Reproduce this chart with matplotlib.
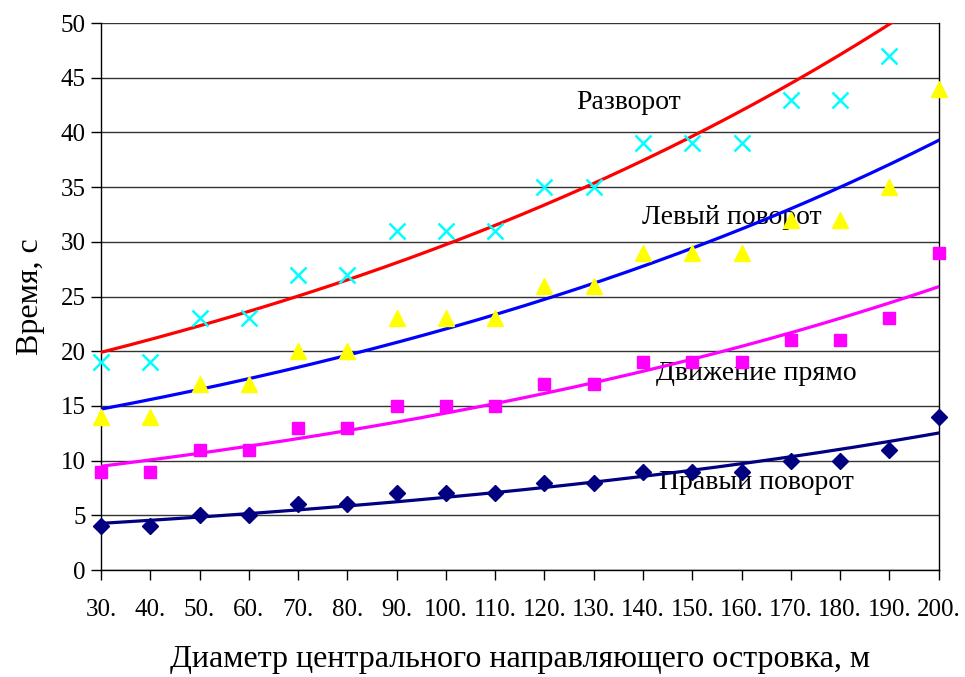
import matplotlib.pyplot as plt
import numpy as np

plt.rcParams['font.family'] = ['Liberation Serif', 'DejaVu Serif']

# island diameter, m
diameters = [30, 40, 50, 60, 70, 80, 90, 100, 110, 120, 130, 140, 150, 160, 170, 180, 190, 200]
tick_labels = [f"{d}." for d in diameters]

# measured times, s
u_turn = [19, 19, 23, 23, 27, 27, 31, 31, 31, 35, 35, 39, 39, 39, 43, 43, 47, 60]
left_turn = [14, 14, 17, 17, 20, 20, 23, 23, 23, 26, 26, 29, 29, 29, 32, 32, 35, 44]
straight = [9, 9, 11, 11, 13, 13, 15, 15, 15, 17, 17, 19, 19, 19, 21, 21, 23, 29]
right_turn = [4, 4, 5, 5, 6, 6, 7, 7, 7, 8, 8, 9, 9, 9, 10, 10, 11, 14]

series = [
    # values, marker, marker colour, line colour, marker size, label, label position
    (u_turn, 'x', '#00FFFF', '#FF0000', 11, 'Разворот', (137, 42.7)),
    (left_turn, '^', '#FFFF00', '#0000FF', 11, 'Левый поворот', (158, 32.2)),
    (straight, 's', '#FF00FF', '#FF00FF', 8, 'Движение прямо', (163, 18.0)),
    (right_turn, 'D', '#000080', '#000080', 8, 'Правый поворот', (163, 8.0)),
]

YMAX = 50
x = np.array(diameters, dtype=float)

fig = plt.figure(figsize=(9.65, 6.77), dpi=100)
ax = fig.add_axes([0.1047, 0.158, 0.868, 0.808])

for values, marker, mcolor, lcolor, size, label, pos in series:
    y = np.array(values, dtype=float)
    # exponential trend line fitted to the points
    b, a = np.polyfit(x, np.log(y), 1)
    xs = np.linspace(30, 200, 200)
    ax.plot(xs, np.exp(a + b * xs), color=lcolor, lw=2.3, zorder=3)
    # points above the axis limit are left out, the rest may spill over the frame
    vis = y <= YMAX
    if marker == 'x':
        ax.plot(x[vis], y[vis], linestyle='none', marker=marker, color=mcolor,
                markersize=size, markeredgewidth=1.8, clip_on=False, zorder=4)
    else:
        ax.plot(x[vis], y[vis], linestyle='none', marker=marker, color=mcolor,
                markeredgecolor=mcolor, markersize=size, clip_on=False, zorder=4)
    ax.text(pos[0], pos[1], label, fontsize=20, ha='center', va='center', zorder=2)

ax.set_xlim(30, 200)
ax.set_ylim(0, YMAX)
ax.set_xticks(diameters)
ax.set_xticklabels(tick_labels)
ax.set_yticks(range(0, 51, 5))
ax.tick_params(axis='both', direction='out', length=7, width=1, labelsize=18, colors='black')
ax.tick_params(axis='x', pad=14)
ax.tick_params(axis='y', pad=4)
ax.yaxis.grid(True, color='#333333', lw=1)
ax.set_axisbelow(True)
ax.spines['top'].set_visible(False)
for s in ['left', 'right', 'bottom']:
    ax.spines[s].set_color('black')
    ax.spines[s].set_linewidth(1)

ax.set_xlabel('Диаметр центрального направляющего островка, м', fontsize=23, labelpad=17)
ax.set_ylabel('Время, с', fontsize=23, labelpad=11)

fig.savefig('out.png', dpi=100)
